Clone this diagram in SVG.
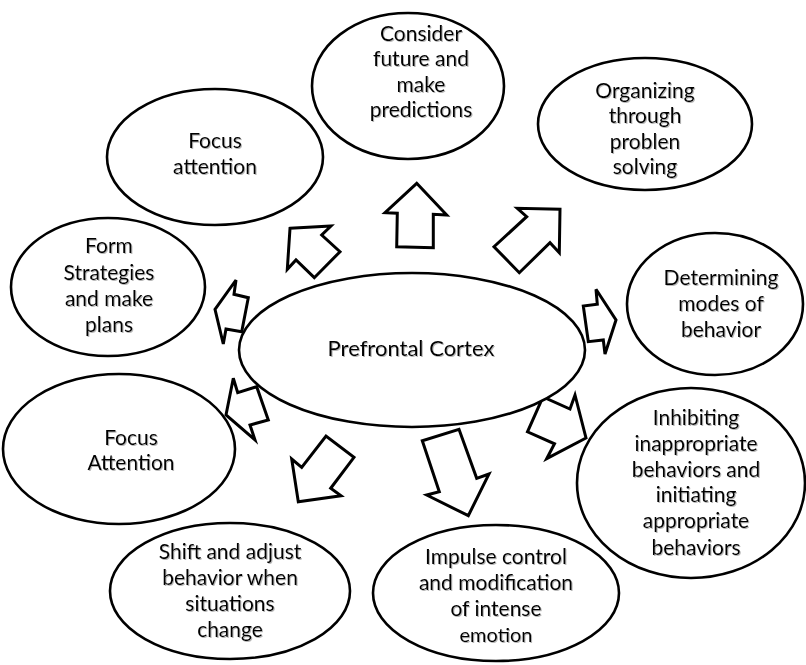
<svg xmlns="http://www.w3.org/2000/svg" width="806" height="665" viewBox="0 0 806 665">
<defs>
<filter id="sh" x="-5%" y="-5%" width="110%" height="120%">
<feDropShadow dx="1" dy="1" stdDeviation="0.6" flood-color="#888" flood-opacity="0.6"/>
</filter>
</defs>
<style>
.n ellipse{fill:#fff;stroke:#000;stroke-width:2.6}
.n text{font-family:Lato,"Open Sans","Liberation Sans",sans-serif;font-size:21px;fill:#000;text-anchor:middle;filter:url(#sh)}
.a polygon{fill:#fff;stroke:#000;stroke-width:3;stroke-linejoin:miter}
</style>
<rect width="806" height="665" fill="#fff"/>
<g class="a" id="connectors">
<polygon points="416.7,183.3 446.7,215 433.3,214.3 433.3,247.7 396.7,246.7 397.3,213.3 385,212.7"/>
<polygon points="560,209.3 559.3,252.7 550,242.7 519.3,272.7 494,246.7 526.7,216.7 517.3,208.3"/>
<polygon points="290,228.3 331,226 321.7,235 340,251.7 314.3,277.7 296,260 287.3,269.3"/>
<polygon points="215,309.3 236,280 234,294.3 248.3,297.7 241.7,331.7 226,329 223.3,344"/>
<polygon points="226,415 233.3,378.3 237.7,392.7 256.7,386.7 268.3,420 250,425 255,440"/>
<polygon points="298.3,501.7 291.7,459 301.7,467.3 326,436 354,457.3 330.7,488.3 341,495.7"/>
<polygon points="468.3,515.7 426.7,495 439.3,491.7 422.3,440.7 459,429.3 476.7,478.3 489,474"/>
<polygon points="616,320 605,354 603.3,340 588.3,341.7 583.3,306 597.3,304.3 596,289.3"/>
<polygon points="586,438 546.7,458.7 554.5,443.8 527.5,431.8 543,397 570,409 575,395"/>
</g>
<g class="n" id="center">
<ellipse cx="412" cy="350" rx="173" ry="77"/>
<text x="411" y="356" style="font-size:22px">Prefrontal Cortex</text>
</g>
<g class="n" id="consider">
<ellipse cx="408" cy="86" rx="96" ry="73"/>
<text x="421" y="41">Consider</text>
<text x="421" y="66">future and</text>
<text x="421" y="92">make</text>
<text x="421" y="117">predictions</text>
</g>
<g class="n" id="organizing">
<ellipse cx="645" cy="124" rx="107" ry="66"/>
<text x="645" y="98">Organizing</text>
<text x="645" y="123">through</text>
<text x="645" y="149">problen</text>
<text x="645" y="174">solving</text>
</g>
<g class="n" id="determining">
<ellipse cx="715" cy="304" rx="88" ry="71"/>
<text x="721" y="285">Determining</text>
<text x="721" y="311">modes of</text>
<text x="721" y="337">behavior</text>
</g>
<g class="n" id="inhibiting">
<ellipse cx="691" cy="483" rx="114" ry="95"/>
<text x="696" y="425">Inhibiting</text>
<text x="696" y="451">inappropriate</text>
<text x="696" y="477">behaviors and</text>
<text x="696" y="502">initiating</text>
<text x="696" y="528">appropriate</text>
<text x="696" y="555">behaviors</text>
</g>
<g class="n" id="impulse">
<ellipse cx="496" cy="593" rx="123" ry="68"/>
<text x="496" y="564">Impulse control</text>
<text x="496" y="590">and modification</text>
<text x="496" y="616">of intense</text>
<text x="496" y="642" style="font-size:20px">emotion</text>
</g>
<g class="n" id="shift">
<ellipse cx="230" cy="591" rx="120" ry="68"/>
<text x="230" y="559">Shift and adjust</text>
<text x="230" y="585">behavior when</text>
<text x="230" y="611">situations</text>
<text x="230" y="637">change</text>
</g>
<g class="n" id="focus-attention-lower">
<ellipse cx="119" cy="449" rx="116" ry="75"/>
<text x="131" y="445">Focus</text>
<text x="131" y="470">Attention</text>
</g>
<g class="n" id="form">
<ellipse cx="108" cy="287" rx="97" ry="69"/>
<text x="109" y="253">Form</text>
<text x="109" y="280">Strategies</text>
<text x="109" y="306">and make</text>
<text x="109" y="332">plans</text>
</g>
<g class="n" id="focus-attention-upper">
<ellipse cx="215" cy="157" rx="108" ry="68"/>
<text x="215" y="148">Focus</text>
<text x="215" y="174">attention</text>
</g>
</svg>
